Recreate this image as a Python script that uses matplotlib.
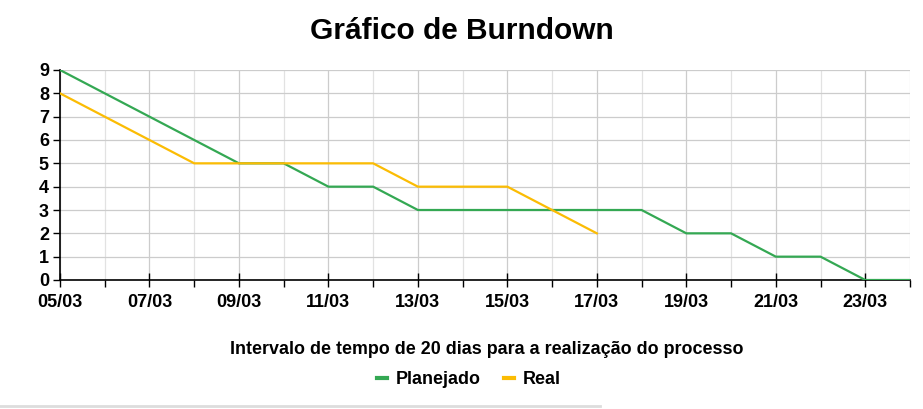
import matplotlib.pyplot as plt
from matplotlib.lines import Line2D

plt.rcParams['font.family'] = ['Liberation Sans', 'DejaVu Sans']
plt.rcParams['font.weight'] = 'bold'

dias = ["05/03", "06/03", "07/03", "08/03", "09/03", "10/03", "11/03", "12/03",
        "13/03", "14/03", "15/03", "16/03", "17/03", "18/03", "19/03", "20/03",
        "21/03", "22/03", "23/03", "24/03"]
planejado = [9, 8, 7, 6, 5, 5, 4, 4, 3, 3, 3, 3, 3, 3, 2, 2, 1, 1, 0, 0]
real = [8, 7, 6, 5, 5, 5, 5, 5, 4, 4, 4, 3, 2]

verde = '#34a853'
amarelo = '#fbbc04'

fig = plt.figure(figsize=(9.23, 4.09), dpi=100)
ax = fig.add_axes([60 / 923, 1 - 280 / 409, 850 / 923, 210 / 409])

x_plan = list(range(len(planejado)))
x_real = list(range(len(real)))
ax.plot(x_plan, planejado, color=verde, lw=1.6, label='Planejado', zorder=3)
ax.plot(x_real, real, color=amarelo, lw=1.6, label='Real', zorder=4)

ax.set_xlim(0, len(dias) - 1)
ax.set_ylim(0, 9)
ax.set_yticks(range(10))
ax.set_xticks(range(0, len(dias), 2))
ax.set_xticklabels(dias[::2])
ax.set_xticks(range(1, len(dias), 2), minor=True)

ax.grid(True, which='major', color='#cccccc', lw=0.9)
ax.grid(True, which='minor', axis='x', color='#e2e2e2', lw=0.9)

for s in ['top', 'right']:
    ax.spines[s].set_visible(False)
ax.spines['left'].set_color('black')
ax.spines['bottom'].set_color('black')
ax.spines['left'].set_linewidth(1.2)
ax.spines['bottom'].set_linewidth(1.2)

ax.tick_params(axis='x', which='major', direction='inout', length=10, width=1,
               labelsize=13, pad=5)
ax.tick_params(axis='x', which='minor', direction='out', length=5, width=1)
ax.tick_params(axis='y', which='major', direction='out', length=5, width=1,
               labelsize=13, pad=3)
for lbl in ax.get_xticklabels() + ax.get_yticklabels():
    lbl.set_fontweight('bold')

fig.text(0.5, 1 - 31 / 409, 'Gráfico de Burndown', ha='center', va='center',
         fontsize=21.5, fontweight='bold')
fig.text(0.527, 1 - 350 / 409, 'Intervalo de tempo de 20 dias para a realização do processo',
         ha='center', va='center', fontsize=12.9, fontweight='bold')

handles = [Line2D([], [], color=verde, lw=3), Line2D([], [], color=amarelo, lw=3)]
fig.legend(handles, ['Planejado', 'Real'], loc='center', bbox_to_anchor=(0.508, 1 - 380 / 409),
           ncol=2, frameon=False, handlelength=0.55, handletextpad=0.5, columnspacing=1.3,
           prop={'weight': 'bold', 'size': 12.9})

fig.add_artist(Line2D([0, 0.65], [1 - 406 / 409] * 2, color='#dddddd', lw=2,
                      transform=fig.transFigure))

fig.savefig('out.png', dpi=100)
